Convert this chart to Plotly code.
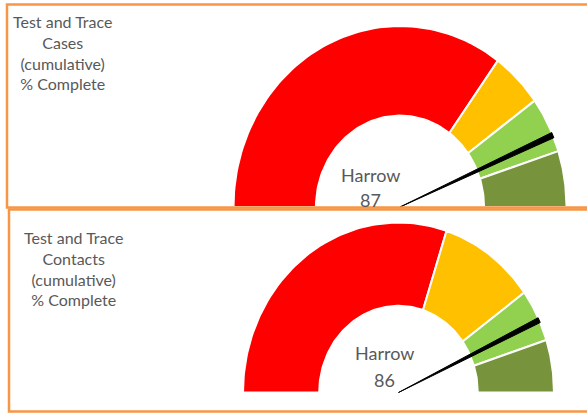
import numpy as np
import plotly.graph_objects as go

# ---- data ----
areas = ["Harrow", "Harrow"]
titles = ["Test and Trace<br>Cases<br>(cumulative)<br>% Complete",
          "Test and Trace<br>Contacts<br>(cumulative)<br>% Complete"]
band_names = ["Red", "Amber", "Green", "Dark green"]
bands_cases = [0, 70, 80, 90, 100]      # band boundaries (% complete)
bands_contacts = [0, 60, 80, 90, 100]
values = [87, 86]                         # needle values
needle_width = 1                          # needle slice width in % units

band_colors = ["#FF0000", "#FFC000", "#92D050", "#77933C"]
ORANGE = "#F79646"
GREY = "#595959"
FONT = "Lato"

W, H = 587, 419
# gauge geometry per panel: centre pixel, horizontal/vertical outer radius px, hole ratio
geo = [
    dict(cx=400.0, cy=207.0, rx=166.5, ry=181.0, hole=0.505),
    dict(cx=398.5, cy=392.5, rx=155.5, ry=170.0, hole=0.51),
]

fig = go.Figure()


def theta(v):
    return np.pi * (1 - v / 100.0)


def arc(a, b, r, n=80):
    t = np.linspace(theta(a), theta(b), n)
    return r * np.cos(t), r * np.sin(t)


for i, bounds in enumerate([bands_cases, bands_contacts]):
    g = geo[i]
    xa = "x" if i == 0 else "x2"
    ya = "y" if i == 0 else "y2"
    for k in range(len(bounds) - 1):
        a, b = bounds[k], bounds[k + 1]
        xo, yo = arc(a, b, 1.0)
        xi, yi = arc(b, a, g["hole"])
        xs = np.concatenate([xo, xi, xo[:1]])
        ys = np.concatenate([yo, yi, yo[:1]])
        fig.add_trace(go.Scatter(x=xs, y=ys, fill="toself", mode="lines",
                                 fillcolor=band_colors[k],
                                 line=dict(color="white", width=2),
                                 name=band_names[k], hoverinfo="skip",
                                 xaxis=xa, yaxis=ya, showlegend=False))
    v = values[i]
    xt, yt = arc(v - needle_width / 2, v + needle_width / 2, 1.0, n=5)
    fig.add_trace(go.Scatter(x=np.concatenate([[0], xt, [0]]),
                             y=np.concatenate([[0], yt, [0]]),
                             fill="toself", mode="lines", fillcolor="black",
                             line=dict(color="black", width=1),
                             hoverinfo="skip", xaxis=xa, yaxis=ya, showlegend=False))

# axis ranges so that unit radius maps to the measured pixel radii
layout_axes = {}
for i, g in enumerate(geo):
    sx = "" if i == 0 else "2"
    x0 = -g["cx"] / g["rx"]
    x1 = (W - g["cx"]) / g["rx"]
    y1 = g["cy"] / g["ry"]
    y0 = -(H - g["cy"]) / g["ry"]
    common = dict(visible=False, showgrid=False, zeroline=False, fixedrange=True)
    layout_axes["xaxis" + sx] = dict(range=[x0, x1], domain=[0, 1], **common)
    layout_axes["yaxis" + sx] = dict(range=[y0, y1], domain=[0, 1], **common)
    if i == 1:
        layout_axes["xaxis2"]["anchor"] = "y2"
        layout_axes["yaxis2"]["anchor"] = "x2"

annotations = []
# panel titles
title_pos = [(62, 53), (73, 268)]
for i, t in enumerate(titles):
    annotations.append(dict(text=t, x=title_pos[i][0] / W, y=1 - title_pos[i][1] / H,
                            xref="paper", yref="paper", showarrow=False, align="center",
                            xanchor="center", yanchor="middle",
                            font=dict(family=FONT, size=16, color=GREY)))
# area name and value labels
label_pos = [(370, 175, 200), (384, 353, 380)]
for i in range(2):
    lx, ly1, ly2 = label_pos[i]
    annotations.append(dict(text=areas[i], x=lx / W, y=1 - ly1 / H, xref="paper", yref="paper",
                            showarrow=False, xanchor="center", yanchor="middle",
                            font=dict(family=FONT, size=18, color=GREY)))
    annotations.append(dict(text=str(values[i]), x=lx / W, y=1 - ly2 / H, xref="paper", yref="paper",
                            showarrow=False, xanchor="center", yanchor="middle",
                            font=dict(family=FONT, size=18, color=GREY)))

# panel borders (open on the right)
shapes = []
for (x, yt, yb) in [(7, 4.5, 207.5), (9, 209.5, 411.5)]:
    shapes.append(dict(type="path", xref="paper", yref="paper",
                       path=f"M 1.01,{1 - yt/H} L {x/W},{1 - yt/H} L {x/W},{1 - yb/H} L 1.01,{1 - yb/H}",
                       line=dict(color=ORANGE, width=2.5)))

fig.update_layout(width=W, height=H, margin=dict(l=0, r=0, t=0, b=0),
                  paper_bgcolor="white", plot_bgcolor="rgba(0,0,0,0)",
                  annotations=annotations, shapes=shapes, showlegend=False,
                  **layout_axes)

fig.write_html("out.html", config={"displayModeBar": False},
               post_script="document.body.style.margin='0';document.body.style.overflow='hidden';")
